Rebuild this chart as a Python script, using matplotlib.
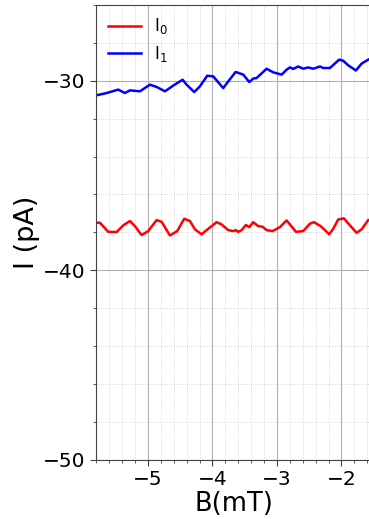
import numpy as np
import matplotlib
matplotlib.use("Agg")
import matplotlib.pyplot as plt
from matplotlib.ticker import MultipleLocator

# field sweep (mT) and current (pA) for the two channels
b0 = [-5.795, -5.744, -5.616, -5.485, -5.383, -5.279, -5.202, -5.098, -4.995,
      -4.865, -4.788, -4.659, -4.546, -4.437, -4.349, -4.271, -4.167, -4.065,
      -3.935, -3.857, -3.755, -3.678, -3.640, -3.600, -3.547, -3.481, -3.429,
      -3.367, -3.290, -3.222, -3.160, -3.067, -2.953, -2.850, -2.798, -2.705,
      -2.592, -2.488, -2.426, -2.322, -2.256, -2.189, -2.127, -2.050, -1.961,
      -1.868, -1.764, -1.687, -1.584]
i0 = [-37.49, -37.49, -37.97, -37.98, -37.63, -37.40, -37.67, -38.14, -37.93,
      -37.35, -37.44, -38.16, -37.93, -37.28, -37.40, -37.84, -38.10, -37.81,
      -37.46, -37.58, -37.88, -37.93, -37.88, -37.97, -37.88, -37.61, -37.72,
      -37.46, -37.67, -37.70, -37.88, -37.93, -37.72, -37.37, -37.58, -37.97,
      -37.93, -37.54, -37.46, -37.67, -37.88, -38.10, -37.81, -37.32, -37.26,
      -37.63, -38.02, -37.84, -37.35]

b1 = [-5.795, -5.640, -5.460, -5.357, -5.279, -5.124, -4.969, -4.865, -4.736,
      -4.608, -4.462, -4.400, -4.282, -4.194, -4.081, -3.988, -3.833, -3.755,
      -3.640, -3.522, -3.429, -3.367, -3.315, -3.160, -3.057, -2.927, -2.850,
      -2.798, -2.747, -2.670, -2.592, -2.515, -2.437, -2.333, -2.282, -2.178,
      -2.034, -1.972, -1.895, -1.775, -1.687, -1.584]
i1 = [-30.77, -30.65, -30.47, -30.65, -30.51, -30.56, -30.21, -30.33, -30.56,
      -30.26, -29.95, -30.21, -30.60, -30.30, -29.74, -29.77, -30.39, -30.04,
      -29.54, -29.68, -30.07, -29.89, -29.86, -29.37, -29.56, -29.68, -29.42,
      -29.30, -29.38, -29.25, -29.37, -29.30, -29.37, -29.25, -29.33, -29.33,
      -28.89, -28.95, -29.19, -29.46, -29.10, -28.89]

fig = plt.figure(figsize=(3.69, 5.19), dpi=100)
ax = fig.add_axes([0.26, 0.1137, 0.75, 0.877])

ax.plot(b0, i0, color='red', lw=1.8, label='I$_0$')
ax.plot(b1, i1, color='blue', lw=1.8, label='I$_1$')

ax.set_xlim(-5.806, -1.515)
ax.set_ylim(-50, -26)
ax.xaxis.set_major_locator(MultipleLocator(1))
ax.xaxis.set_minor_locator(MultipleLocator(0.2))
ax.yaxis.set_major_locator(MultipleLocator(10))
ax.yaxis.set_minor_locator(MultipleLocator(2))

ax.grid(which='major', color='#b0b0b0', lw=0.8)
ax.grid(which='minor', color='#cccccc', lw=0.6, ls=':')
ax.tick_params(which='major', labelsize=14.5, length=4, color='#444444')
ax.tick_params(which='minor', length=2, color='#444444')
for s in ax.spines.values():
    s.set_color('#444444')

ax.set_xlabel('B(mT)', fontsize=18.5, labelpad=1)
ax.set_ylabel('I (pA)', fontsize=19.5, labelpad=2)
ax.legend(loc='upper left', frameon=False, fontsize=12, handlelength=2.0,
          borderaxespad=0.3, labelspacing=0.45)

fig.savefig('out.png', dpi=100)
